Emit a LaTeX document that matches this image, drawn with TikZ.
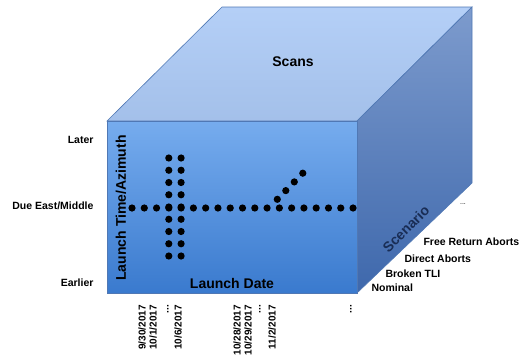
\documentclass[tikz,border=0pt]{standalone}
\usepackage{fontspec}
\setmainfont{Liberation Sans}
\definecolor{topface}{RGB}{172,202,246}
\definecolor{frontlight}{RGB}{118,172,238}
\definecolor{frontdark}{RGB}{58,122,206}
\definecolor{sidelight}{RGB}{125,155,205}
\definecolor{sidedark}{RGB}{62,104,172}
\definecolor{cubeedge}{RGB}{80,120,180}
\definecolor{scenariotext}{RGB}{25,45,85}
\tikzset{
  lab/.style={font=\bfseries\fontsize{10.5}{12}\selectfont},
  axislab/.style={font=\bfseries\fontsize{14}{16}\selectfont},
  datelab/.style={font=\bfseries\fontsize{10}{12}\selectfont,rotate=90,anchor=east,inner sep=0pt}
}
\begin{document}
\begin{tikzpicture}[x=1pt,y=-1pt]
   \useasboundingbox (0,0) rectangle (520,360);

   % cube
   \shade[top color=topface!90!white,bottom color=topface!95!black,draw=cubeedge,line width=.6pt]
      (107,121) -- (222,7) -- (472,7) -- (357,121) -- cycle;
   \shade[top color=sidelight,bottom color=sidedark,draw=cubeedge,line width=.6pt]
      (357,121) -- (472,7) -- (472,183) -- (357,293) -- cycle;
   \shade[top color=frontlight,bottom color=frontdark,draw=cubeedge,line width=.6pt]
      (107,121) rectangle (357,293);

   \node[axislab] (scans) at (293,62) {Scans};
   \node[axislab,rotate=90] (time) at (121,208) {Launch Time/Azimuth};
   \node[axislab] (date) at (232,283) {Launch Date};
   \node[axislab,rotate=45,text=scenariotext,inner sep=0pt] (scenario) at (406,229) {Scenario};

   % scan points
   \foreach \i in {0,...,18}
      \fill (132+\i*12.28,208) circle (3.6pt);
   \foreach \j in {0,...,8}{
      \fill (168.8,158+\j*12.25) circle (3.6pt);
      \fill (181.1,158+\j*12.25) circle (3.6pt);
   }
   \foreach \k in {0,...,3}
      \fill (277.3+\k*8.5,199.3-\k*8.7) circle (3.6pt);

   % launch time levels
   \node[lab,anchor=east] (later) at (97,140) {Later};
   \node[lab,anchor=east] (middle) at (97,206) {Due East/Middle};
   \node[lab,anchor=east] (earlier) at (97,283) {Earlier};

   % scenarios
   \node[lab,anchor=west] (free) at (420,242) {Free Return Aborts};
   \node[lab,anchor=west] (direct) at (401,259) {Direct Aborts};
   \node[lab,anchor=west] (broken) at (382,274) {Broken TLI};
   \node[lab,anchor=west] (nominal) at (368,288) {Nominal};
   \node[font=\fontsize{7}{8}\selectfont] (more) at (463,204) {...};

   % launch dates
   \node[datelab] (d1) at (142,305) {9/30/2017};
   \node[datelab] (d2) at (153,305) {10/1/2017};
   \node[datelab] (d3) at (168,305) {...};
   \node[datelab] (d4) at (178,305) {10/6/2017};
   \node[datelab] (d5) at (237,305) {10/28/2017};
   \node[datelab] (d6) at (248,305) {10/29/2017};
   \node[datelab] (d7) at (260,305) {...};
   \node[datelab] (d8) at (272,305) {11/2/2017};
   \node[datelab] (d9) at (351,305) {...};

 \end{tikzpicture}
\end{document}
